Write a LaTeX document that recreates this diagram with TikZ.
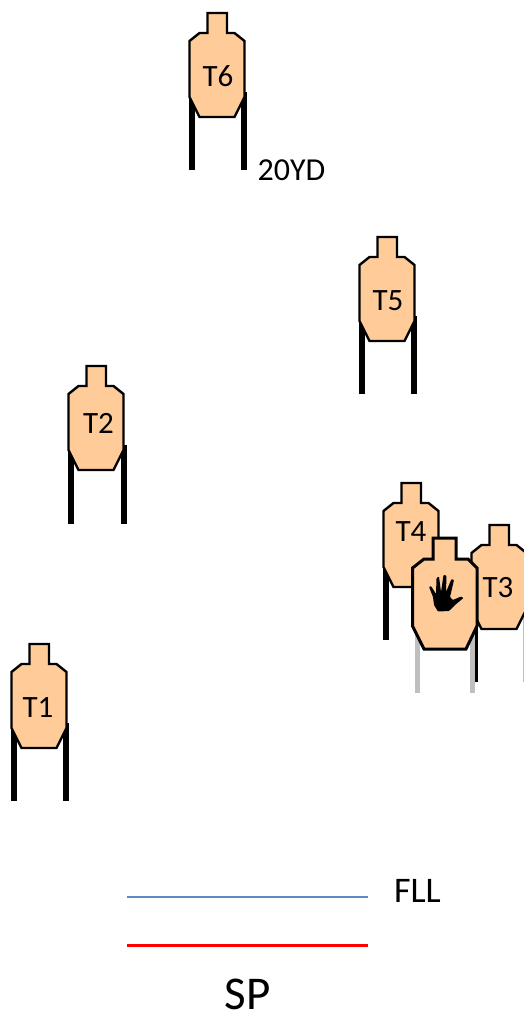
\documentclass[tikz,border=0pt]{standalone}
\usepackage{fontspec}
\setmainfont{Carlito}
\definecolor{tan}{RGB}{255,204,153}
\definecolor{fll}{RGB}{91,139,200}
\definecolor{legray}{RGB}{191,191,191}
\tikzset{
  x=1pt,y=-1pt,
  legline/.style={line width=5.5pt,black,line cap=butt},
  graylegline/.style={line width=5pt,legray,line cap=butt},
  bodyline/.style={draw=black,fill=tan,line width=2.4pt,line join=miter},
  handbody/.style={draw=black,fill=tan,line width=3pt,line join=miter},
  lbl/.style={inner sep=0pt,anchor=base,font=\fontsize{31}{34}\selectfont},
  silhouette/.pic={
    \path[bodyline] (18.5,0) -- (38,0) -- (38,20) -- (45.5,20) -- (55.5,28) -- (55.5,84)
      -- (45.5,104) -- (10.5,104) -- (0.5,84) -- (0.5,28) -- (10.5,20) -- (18.5,20) -- cycle;
  }
}
\begin{document}
\begin{tikzpicture}
\useasboundingbox (0,0) rectangle (524,1012);
\clip (0,0) rectangle (524,1012);
% T6
\draw[legline] (192,97) -- (192,170);
\draw[legline] (244,92) -- (244,170);
\pic at (189,13) {silhouette};
\node[lbl] (t6) at (218,86) {T6};
\node[lbl,font=\fontsize{32}{35}\selectfont] (yd) at (291.5,180) {20YD};
% T5
\draw[legline] (362,321) -- (362,394);
\draw[legline] (414,316) -- (414,394);
\pic at (359,237) {silhouette};
\node[lbl] (t5) at (388,310) {T5};
% T2
\draw[legline] (71,450) -- (71,524);
\draw[legline] (124,445) -- (124,524);
\pic at (68,366) {silhouette};
\node[lbl] (t2) at (98.5,433) {T2};
% T1
\draw[legline] (14,728) -- (14,801);
\draw[legline] (66,723) -- (66,801);
\pic at (11,644) {silhouette};
\node[lbl] (t1) at (38,717) {T1};
% T4
\draw[legline] (386,567) -- (386,640);
\pic at (383,483) {silhouette};
\node[lbl] (t4) at (411,541) {T4};
% T3
\draw[legline] (475,609) -- (475,682);
\draw[line width=1.2pt,legray] (523.5,609) -- (523.5,682);
\pic at (471,525) {silhouette};
\node[lbl] (t3) at (498,597) {T3};
% Hand target
\draw[graylegline] (417,630) -- (417,693);
\draw[graylegline] (472,630) -- (472,693);
\path[handbody] (433,538) -- (456,538) -- (456,559) -- (468,559) -- (477,568) -- (477,626)
  -- (466,649) -- (424,649) -- (412.5,626) -- (412.5,568) -- (424,559) -- (433,559) -- cycle;
\fill[black,rounded corners=0.8pt] (429,587) -- (431,586) -- (436,594) -- (436.5,578) -- (439,576.5) -- (441,592)
  -- (443.5,575) -- (446.5,575.5) -- (446,592) -- (451.5,579) -- (454,580) -- (450,597)
  -- (453,600) -- (461,596.5) -- (463.5,598) -- (455,605) -- (449,611) -- (438,611.5) -- (434,605) -- (433,597) -- cycle;
% Lines
\coordinate (fa) at (127,897);
\coordinate (fb) at (368,897);
\coordinate (sa) at (127,945);
\coordinate (sb) at (368,945);
\draw[fll,line width=1.6pt] (fa) -- (fb);
\draw[red,line width=3pt] (sa) -- (sb);
\node[inner sep=0pt,anchor=base,font=\fontsize{36}{40}\selectfont] (fl) at (417.5,902) {FLL};
\node[inner sep=0pt,anchor=base,font=\fontsize{47}{50}\selectfont] (sp) at (247.5,1009.5) {SP};
\end{tikzpicture}
\end{document}
